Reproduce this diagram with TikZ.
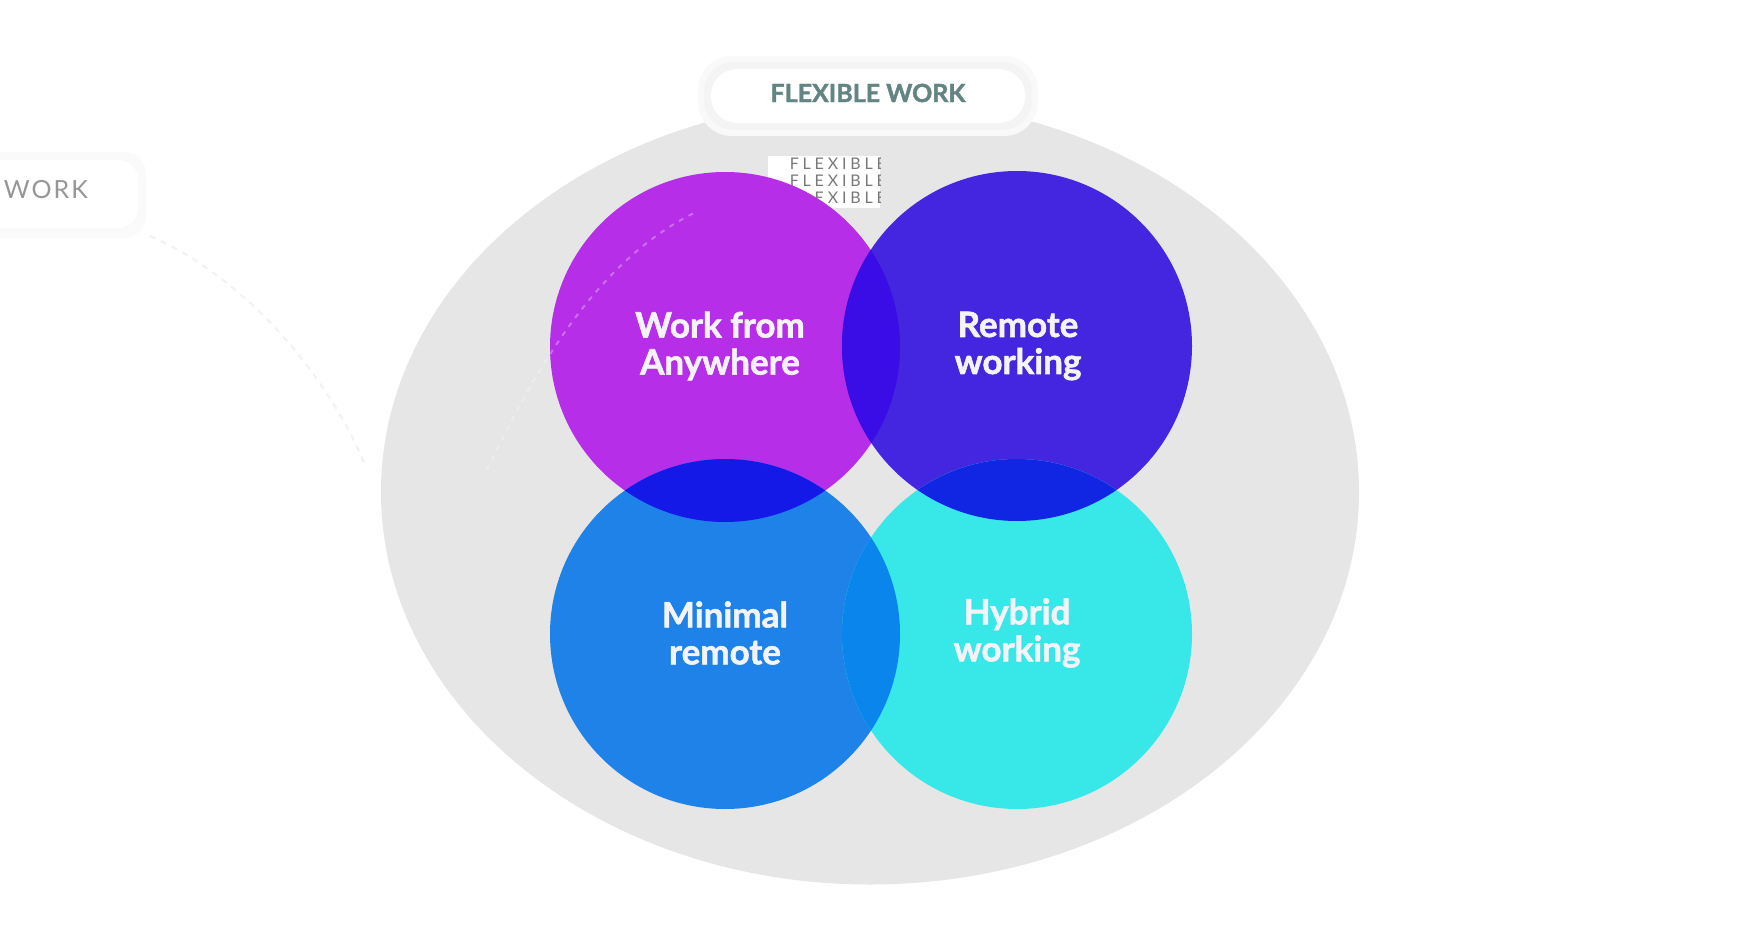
\documentclass[tikz,border=0pt]{standalone}
\usepackage{fontspec}
\usetikzlibrary{shapes.geometric}
\setmainfont{Lato}
\newfontfamily\labfont{Lato}[BoldFeatures={FakeBold=1.6}]
\newfontfamily\ghostfont{Lato}[LetterSpace=8]
\newfontfamily\stackfont{Lato}[LetterSpace=24]
\definecolor{bggrey}{RGB}{230,230,230}
\definecolor{cTL}{RGB}{182,46,232}
\definecolor{cTR}{RGB}{69,38,224}
\definecolor{cBL}{RGB}{31,130,232}
\definecolor{cBR}{RGB}{56,232,232}
\definecolor{cTLTR}{RGB}{58,13,230}
\definecolor{cTLBL}{RGB}{21,25,232}
\definecolor{cTRBR}{RGB}{17,38,227}
\definecolor{cBLBR}{RGB}{10,133,235}
\definecolor{labwhite}{RGB}{244,244,248}
\definecolor{tagtext}{RGB}{100,132,132}
\definecolor{ghost}{RGB}{150,150,150}
\begin{document}
\begin{tikzpicture}[x=1pt,y=-1pt,
  lab/.style={text=labwhite,font=\labfont\fontsize{35}{37}\selectfont\bfseries,align=center,inner sep=0pt},
  venn/.style={circle,minimum size=350pt,inner sep=0pt},
  stack/.style={text=ghost!80!black,font=\stackfont\fontsize{16}{16}\selectfont,anchor=north east,inner sep=0pt},
  tag/.style={rounded corners=26pt,fill=white}]
\useasboundingbox (0,0) rectangle (1756,939);
\fill[white] (0,0) rectangle (1756,939);
% faint ghost label at left edge
\fill[gray!4,rounded corners=22pt] (-40,152) rectangle (146,238);
\fill[white,rounded corners=20pt] (-40,160) rectangle (138,228);
\node[text=ghost,font=\ghostfont\fontsize{25}{25}\selectfont,anchor=east,inner sep=0pt] (ghostlab) at (88,190) {WORK};
% big grey ellipse
\node[ellipse,fill=bggrey,minimum width=978pt,minimum height=785pt,inner sep=0pt] (outer) at (870,492) {};
% faint ghost connector
\coordinate (gA) at (150,236);
\coordinate (gB) at (365,465);
\draw[gray!10,line width=2pt,dash pattern=on 6pt off 6pt] (gA) .. controls (250,280) and (330,380) .. (gB);
% FLEXIBLE ghost stack
\begin{scope}
\clip (768,156) rectangle (880,208);
\fill[white] (768,156) rectangle (880,208);
\node[stack] (gf1) at (886,158) {FLEXIBLE};
\node[stack] (gf2) at (886,175) {FLEXIBLE};
\node[stack] (gf3) at (886,192) {FLEXIBLE};
\end{scope}
% circles
\node[venn,fill=cTL] (tl) at (725,347) {};
\node[venn,fill=cTR] (tr) at (1017,346) {};
\node[venn,fill=cBL] (bl) at (725,634) {};
\node[venn,fill=cBR] (br) at (1017,634) {};
% overlaps
\begin{scope}
\clip (725,347) circle[radius=175];
\fill[cTLTR] (1017,346) circle[radius=175];
\fill[cTLBL] (725,634) circle[radius=175];
\end{scope}
\begin{scope}
\clip (1017,346) circle[radius=175];
\fill[cTRBR] (1017,634) circle[radius=175];
\end{scope}
\begin{scope}
\clip (725,634) circle[radius=175];
\fill[cBLBR] (1017,634) circle[radius=175];
\end{scope}
% faint ghost dashes over purple
\draw[white,opacity=0.3,line width=2pt,dash pattern=on 5pt off 6pt] (487,470) .. controls (540,360) and (600,260) .. (694,213);
% labels
\node[lab] (ltl) at (720,346) {Work from\\Anywhere};
\node[lab] (ltr) at (1018,346) {Remote\\working};
\node[lab] (lbl) at (725,633) {Minimal\\remote};
\node[lab] (lbr) at (1017,633) {Hybrid\\working};
% top tag
\fill[gray!5,rounded corners=34pt] (698,56) rectangle (1038,136);
\fill[gray!9,rounded corners=30pt] (704,62) rectangle (1032,130);
\fill[tag] (711,69) rectangle (1025,123);
\node[text=tagtext,font=\labfont\fontsize{25}{25}\selectfont\bfseries,inner sep=0pt] (tagtxt) at (868,93) {FLEXIBLE WORK};
\end{tikzpicture}
\end{document}
